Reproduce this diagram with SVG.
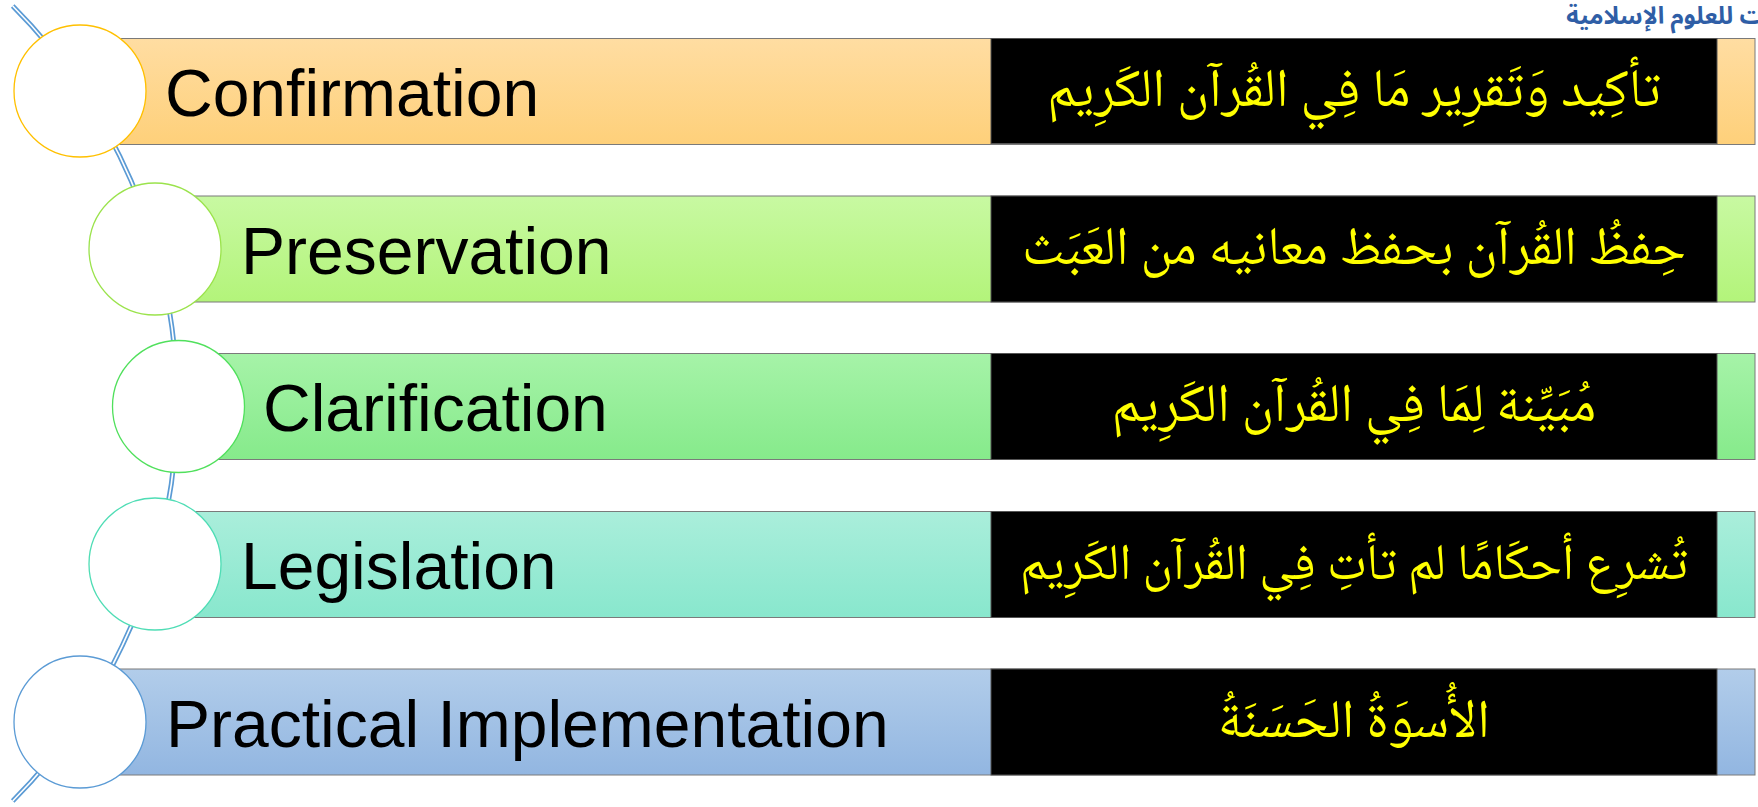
<svg xmlns="http://www.w3.org/2000/svg" width="1758" height="807" viewBox="0 0 1758 807">
<defs>
<linearGradient id="g1" x1="0" y1="0" x2="0" y2="1"><stop offset="0" stop-color="#FFDDA2"/><stop offset="1" stop-color="#FED07A"/></linearGradient>
<linearGradient id="g2" x1="0" y1="0" x2="0" y2="1"><stop offset="0" stop-color="#C8F9A2"/><stop offset="1" stop-color="#B3F47A"/></linearGradient>
<linearGradient id="g3" x1="0" y1="0" x2="0" y2="1"><stop offset="0" stop-color="#A6F3A8"/><stop offset="1" stop-color="#86EA8B"/></linearGradient>
<linearGradient id="g4" x1="0" y1="0" x2="0" y2="1"><stop offset="0" stop-color="#AAEEDB"/><stop offset="1" stop-color="#88E7CD"/></linearGradient>
<linearGradient id="g5" x1="0" y1="0" x2="0" y2="1"><stop offset="0" stop-color="#B2CDEA"/><stop offset="1" stop-color="#92B6E1"/></linearGradient>
</defs>
<style>
.bar{stroke:#7A7A7A;stroke-width:1}
.blk{fill:#000;stroke:#555;stroke-width:1}
.dot{fill:#fff;stroke-width:1.3}
.en{font-family:"Liberation Sans",Arial,sans-serif;font-size:66px;fill:#000}
.ar{font-family:"Noto Naskh Arabic","Amiri","Noto Sans Arabic","DejaVu Sans",sans-serif;font-size:54px;fill:#FFFF00;text-anchor:middle}
.hdr{font-family:"Noto Sans Arabic","DejaVu Sans",sans-serif;font-size:24px;font-weight:bold;fill:#2F5EA6}
</style>
<rect width="1758" height="807" fill="#fff"/>
<text class="hdr" x="1764" y="24" direction="rtl" text-anchor="start">ت للعلوم الإسلامية</text>
<g id="connectors">
<path d="M 12.7 6 A 563 563 0 0 1 12.7 801" fill="none" stroke="#5B9BD5" stroke-width="5"/>
<path d="M 12.7 6 A 563 563 0 0 1 12.7 801" fill="none" stroke="#fff" stroke-width="1.6"/>
</g>
<g id="n1">
<rect class="bar" x="114" y="38.5" width="1641" height="106" fill="url(#g1)"/>
<rect class="blk" x="991" y="38.5" width="726" height="105"/>
<circle class="dot" cx="80" cy="91" r="66" stroke="#FFC000"/>
<text class="en" x="165" y="116">Confirmation</text>
<text class="ar" x="1354" y="106">تأكِيد وَتَقرِير مَا فِي القُرآن الكَرِيم</text>
</g>
<g id="n2">
<rect class="bar" x="190" y="196" width="1565" height="106" fill="url(#g2)"/>
<rect class="blk" x="991" y="196" width="726" height="106"/>
<circle class="dot" cx="155" cy="249" r="66" stroke="#9BE34C"/>
<text class="en" x="241" y="274">Preservation</text>
<text class="ar" x="1354" y="264">حِفظُ القُرآن بحفظ معانيه من العَبَث</text>
</g>
<g id="n3">
<rect class="bar" x="212" y="353.5" width="1543" height="106" fill="url(#g3)"/>
<rect class="blk" x="991" y="353.5" width="726" height="106"/>
<circle class="dot" cx="178.5" cy="406.5" r="66" stroke="#50E05C"/>
<text class="en" x="263" y="431">Clarification</text>
<text class="ar" x="1354" y="421">مُبَيِّنة لِمَا فِي القُرآن الكَرِيم</text>
</g>
<g id="n4">
<rect class="bar" x="190" y="511.5" width="1565" height="106" fill="url(#g4)"/>
<rect class="blk" x="991" y="511.5" width="726" height="106"/>
<circle class="dot" cx="155" cy="564" r="66" stroke="#4FDDB5"/>
<text class="en" x="241" y="589">Legislation</text>
<text class="ar" x="1354" y="579" style="font-size:51px">تُشرِع أحكَامًا لم تأتِ فِي القُرآن الكَرِيم</text>
</g>
<g id="n5">
<rect class="bar" x="114" y="669" width="1641" height="106" fill="url(#g5)"/>
<rect class="blk" x="991" y="669" width="726" height="106"/>
<circle class="dot" cx="80" cy="722" r="66" stroke="#5B9BD5"/>
<text class="en" x="166" y="747">Practical Implementation</text>
<text class="ar" x="1354" y="737">الأُسوَةُ الحَسَنَةُ</text>
</g>
</svg>
